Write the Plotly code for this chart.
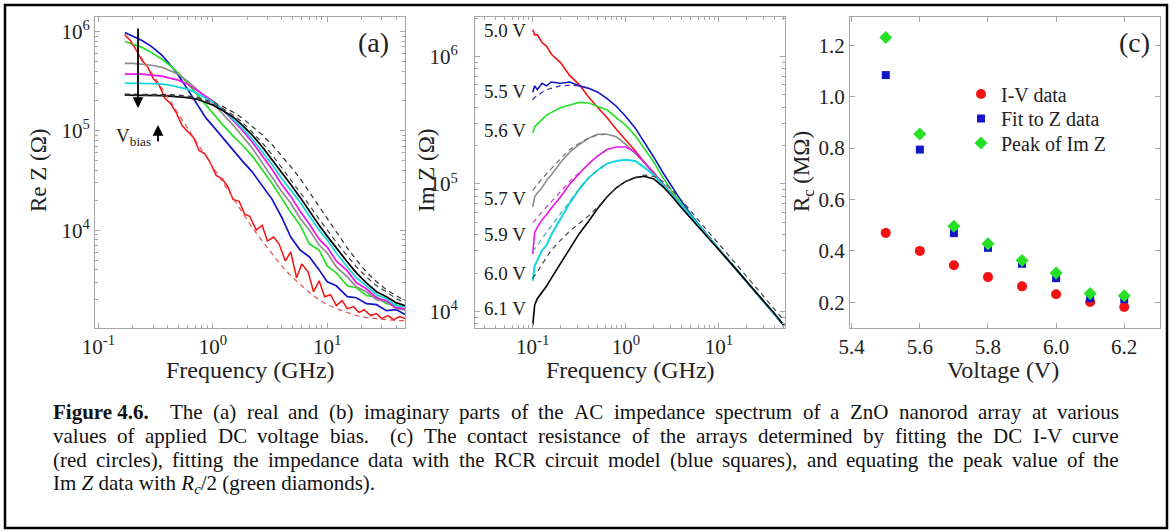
import plotly.graph_objects as go

W, H = 1172, 531

# ---------------- Panel (a): Re Z (log10 of ohms) vs frequency (GHz) ----------------
FREQ_A = [0.17, 0.2, 0.24, 0.29, 0.36, 0.42, 0.5, 0.6, 0.72, 0.87, 1.0, 1.2, 1.5, 1.8, 2.2, 2.7,
          3.3, 4.0, 4.8, 5.8, 7.0, 8.5, 10, 12, 15, 18, 22, 27, 33, 40, 48]
FREQ_A_RED = [0.17, 0.19, 0.21, 0.24, 0.27, 0.3, 0.34, 0.38, 0.43, 0.48, 0.54, 0.6, 0.68, 0.76,
              0.85, 0.95, 1.07, 1.2, 1.35, 1.5, 1.7, 1.9, 2.1, 2.4, 2.7, 3.0, 3.4, 3.8, 4.3, 4.8,
              5.4, 6.0, 6.8, 7.6, 8.5, 9.5, 10.7, 12, 13.5, 15, 17, 19, 21, 24, 27, 30, 34, 38, 43, 48]
REZ_5V0 = [5.97, 5.91, 5.83, 5.71, 5.64, 5.53, 5.46, 5.33, 5.27, 5.18, 5.05, 4.99, 4.93, 4.80,
           4.77, 4.68, 4.55, 4.52, 4.44, 4.31, 4.29, 4.16, 4.14, 4.00, 4.05, 3.89, 3.93, 3.86, 3.69,
           3.78, 3.52, 3.66, 3.58, 3.38, 3.49, 3.33, 3.35, 3.24, 3.29, 3.21, 3.23, 3.17, 3.20, 3.14,
           3.16, 3.11, 3.14, 3.10, 3.13, 3.11]
REZ_5V5 = [5.99, 5.95, 5.91, 5.85, 5.76, 5.67, 5.56, 5.42, 5.28, 5.13, 5.05, 4.94, 4.81, 4.70, 4.59,
           4.45, 4.31, 4.13, 3.93, 3.80, 3.73, 3.60, 3.48, 3.44, 3.33, 3.32, 3.26, 3.25, 3.19, 3.20, 3.15]
REZ_5V6 = [5.90, 5.87, 5.84, 5.79, 5.72, 5.66, 5.58, 5.48, 5.37, 5.26, 5.18, 5.07, 4.95, 4.86, 4.75,
           4.61, 4.47, 4.32, 4.18, 4.05, 3.86, 3.80, 3.64, 3.57, 3.44, 3.42, 3.34, 3.33, 3.26, 3.25, 3.19]
REZ_5V7 = [5.68, 5.68, 5.67, 5.66, 5.64, 5.61, 5.57, 5.50, 5.42, 5.34, 5.28, 5.18, 5.06, 4.95, 4.83,
           4.68, 4.53, 4.39, 4.27, 4.12, 4.00, 3.85, 3.77, 3.63, 3.53, 3.43, 3.38, 3.30, 3.28, 3.21, 3.20]
REZ_5V9 = [5.57, 5.57, 5.57, 5.56, 5.55, 5.53, 5.51, 5.47, 5.41, 5.35, 5.30, 5.22, 5.11, 5.01, 4.89,
           4.75, 4.61, 4.46, 4.34, 4.19, 4.06, 3.91, 3.83, 3.69, 3.59, 3.47, 3.41, 3.32, 3.29, 3.22, 3.21]
REZ_6V0 = [5.48, 5.48, 5.48, 5.475, 5.47, 5.46, 5.44, 5.42, 5.38, 5.33, 5.29, 5.22, 5.12, 5.03, 4.92,
           4.79, 4.66, 4.52, 4.40, 4.28, 4.14, 4.00, 3.90, 3.77, 3.63, 3.52, 3.44, 3.35, 3.31, 3.24, 3.23]
REZ_6V1 = [5.36, 5.36, 5.36, 5.36, 5.355, 5.35, 5.345, 5.335, 5.32, 5.29, 5.26, 5.21, 5.14, 5.06, 4.96,
           4.84, 4.71, 4.58, 4.46, 4.33, 4.19, 4.05, 3.94, 3.82, 3.68, 3.57, 3.47, 3.38, 3.33, 3.27, 3.24]
REZ_FIT_5V0 = [5.97, 5.86, 5.73, 5.59, 5.43, 5.31, 5.17, 5.03, 4.89, 4.74, 4.64, 4.50, 4.33, 4.19, 4.03,
               3.89, 3.76, 3.64, 3.54, 3.45, 3.37, 3.30, 3.25, 3.21, 3.17, 3.14, 3.12, 3.11, 3.10, 3.09, 3.09]
REZ_FIT_6V1_A = [5.36, 5.36, 5.36, 5.36, 5.36, 5.355, 5.35, 5.34, 5.325, 5.30, 5.27, 5.23, 5.16, 5.09,
                 4.99, 4.88, 4.76, 4.63, 4.51, 4.38, 4.25, 4.11, 4.00, 3.88, 3.74, 3.63, 3.53, 3.44,
                 3.38, 3.31, 3.27]
REZ_FIT_6V1_B = [5.37, 5.37, 5.37, 5.37, 5.37, 5.365, 5.36, 5.35, 5.34, 5.31, 5.29, 5.25, 5.19, 5.13,
                 5.05, 4.96, 4.86, 4.75, 4.64, 4.52, 4.38, 4.24, 4.12, 3.98, 3.82, 3.70, 3.58, 3.48,
                 3.40, 3.34, 3.29]

# ---------------- Panel (b): Im Z (log10 of ohms) vs frequency (GHz) ----------------
FREQ_B = [0.1, 0.105, 0.112, 0.126, 0.141, 0.158, 0.2, 0.25, 0.316, 0.4, 0.5, 0.63, 0.79, 1.0,
          1.26, 1.58, 2.0, 2.5, 3.16, 4.0, 5.0, 6.3, 7.9, 10, 15.8, 25, 40, 50]
IMZ_5V0 = [6.21, 6.17, 6.17, 6.11, 6.08, 6.02, 5.95, 5.85, 5.78, 5.68, 5.60, 5.52, 5.43, 5.345, 5.26,
           5.17, 5.09, 5.00, 4.92, 4.83, 4.75, 4.66, 4.58, 4.49, 4.32, 4.15, 3.98, 3.89]
IMZ_5V5 = [5.72, 5.77, 5.74, 5.79, 5.77, 5.80, 5.79, 5.80, 5.77, 5.75, 5.72, 5.67, 5.61, 5.53, 5.44,
           5.33, 5.21, 5.09, 4.97, 4.86, 4.76, 4.665, 4.578, 4.49, 4.32, 4.15, 3.98, 3.89]
IMZ_5V6 = [5.40, 5.45, 5.47, 5.51, 5.54, 5.56, 5.60, 5.62, 5.64, 5.635, 5.61, 5.58, 5.52, 5.46, 5.38,
           5.28, 5.17, 5.05, 4.94, 4.84, 4.75, 4.66, 4.578, 4.49, 4.32, 4.15, 3.98, 3.89]
IMZ_5V7 = [4.82, 4.90, 4.93, 4.97, 5.03, 5.07, 5.17, 5.25, 5.31, 5.36, 5.39, 5.39, 5.37, 5.31, 5.24,
           5.17, 5.085, 5.00, 4.915, 4.83, 4.745, 4.66, 4.576, 4.49, 4.32, 4.15, 3.98, 3.89]
IMZ_5V9 = [4.45, 4.62, 4.66, 4.72, 4.76, 4.81, 4.90, 5.00, 5.08, 5.16, 5.22, 5.27, 5.29, 5.29, 5.25,
           5.17, 5.08, 5.00, 4.91, 4.83, 4.745, 4.66, 4.576, 4.49, 4.32, 4.15, 3.98, 3.89]
IMZ_6V0 = [4.24, 4.36, 4.40, 4.48, 4.52, 4.60, 4.73, 4.85, 4.96, 5.05, 5.11, 5.16, 5.18, 5.19, 5.18,
           5.13, 5.07, 4.995, 4.915, 4.83, 4.745, 4.66, 4.576, 4.49, 4.32, 4.15, 3.98, 3.89]
IMZ_6V1 = [3.89, 4.05, 4.10, 4.15, 4.20, 4.26, 4.38, 4.50, 4.61, 4.71, 4.81, 4.90, 4.97, 5.02, 5.05,
           5.06, 5.04, 4.98, 4.90, 4.81, 4.73, 4.65, 4.57, 4.49, 4.32, 4.15, 3.98, 3.89]
IMZ_FIT_5V5 = [5.66, 5.68, 5.69, 5.72, 5.74, 5.75, 5.77, 5.775, 5.77, 5.75, 5.72, 5.67]
IMZ_FIT_5V7 = [4.95, 4.97, 5.00, 5.04, 5.08, 5.12, 5.20, 5.27, 5.32, 5.36, 5.385, 5.39]
IMZ_FIT_5V9 = [4.70, 4.71, 4.74, 4.78, 4.82, 4.86, 4.94, 5.02, 5.09, 5.16, 5.22, 5.27]
IMZ_FIT_6V0 = [4.47, 4.49, 4.52, 4.57, 4.62, 4.67, 4.77, 4.87, 4.96, 5.05, 5.11, 5.16]
IMZ_FIT_6V1 = [4.26, 4.28, 4.31, 4.37, 4.43, 4.48, 4.56, 4.63, 4.69, 4.75, 4.82, 4.90, 4.97, 5.02,
               5.05, 5.07, 5.06, 5.02, 4.95, 4.87, 4.785, 4.70, 4.615, 4.53, 4.36, 4.19, 4.02, 3.93]
VOLT_LABELS_B = ["5.0 V", "5.5 V", "5.6 V", "5.7 V", "5.9 V", "6.0 V", "6.1 V"]

# ---------------- Panel (c): contact resistance (MOhm) vs voltage (V) ----------------
VOLTAGE = [5.5, 5.6, 5.7, 5.8, 5.9, 6.0, 6.1, 6.2]
RC_IV = [0.470, 0.400, 0.344, 0.298, 0.262, 0.231, 0.201, 0.182]
RC_FIT = [1.084, 0.794, 0.469, 0.412, 0.350, 0.294, 0.216, 0.212]
RC_PEAK = [1.230, 0.855, 0.496, 0.428, 0.363, 0.314, 0.234, 0.225]

RED, BLUE, GREEN = "#f21212", "#1414c8", "#25e025"
GRAY, MAGENTA, CYAN, BLACK = "#8c8c8c", "#ee12ee", "#12d6e0", "#000000"
FONT = "Liberation Serif, Times New Roman, serif"
AX = "#a6a6a6"

fig = go.Figure()


def add_line(x, logy, color, xa, ya, width=1.6, dash=None):
    fig.add_trace(go.Scatter(x=x[:len(logy)], y=[10 ** v for v in logy], mode="lines",
                             line=dict(color=color, width=width, dash=dash),
                             xaxis=xa, yaxis=ya, showlegend=False, hoverinfo="skip"))


# panel (a)
add_line(FREQ_A_RED, REZ_5V0, RED, "x", "y", 1.5)
for vals, col in [(REZ_5V5, BLUE), (REZ_5V6, GREEN), (REZ_5V7, GRAY), (REZ_5V9, MAGENTA),
                  (REZ_6V0, CYAN), (REZ_6V1, BLACK)]:
    add_line(FREQ_A, vals, col, "x", "y", 1.7)
add_line(FREQ_A, REZ_FIT_5V0, "#e85050", "x", "y", 1.2, "5px,4px")
add_line(FREQ_A, REZ_FIT_6V1_A, "#404040", "x", "y", 1.2, "5px,4px")
add_line(FREQ_A, REZ_FIT_6V1_B, "#303030", "x", "y", 1.2, "5px,4px")

# panel (b)
for vals, col in [(IMZ_5V0, RED), (IMZ_5V5, BLUE), (IMZ_5V6, GREEN), (IMZ_5V7, GRAY),
                  (IMZ_5V9, MAGENTA), (IMZ_6V0, CYAN), (IMZ_6V1, BLACK)]:
    add_line(FREQ_B, vals, col, "x2", "y2", 2.0 if col == CYAN else 1.6)
for vals, col in [(IMZ_FIT_5V5, "#3030a0"), (IMZ_FIT_5V7, "#707070"), (IMZ_FIT_5V9, "#c040c0"),
                  (IMZ_FIT_6V0, "#30b0b8"), (IMZ_FIT_6V1, "#404848")]:
    add_line(FREQ_B, vals, col, "x2", "y2", 1.2, "5px,4px")

# panel (c): one legend per entry so that the rows can be spaced like the original
for vals, name, sym, size, col, leg in [(RC_IV, "I-V data", "circle", 10, RED, "legend"),
                                        (RC_FIT, "Fit to Z data", "square", 8, BLUE, "legend2"),
                                        (RC_PEAK, "Peak of Im Z", "diamond", 10, GREEN, "legend3")]:
    fig.add_trace(go.Scatter(x=VOLTAGE, y=vals, mode="markers", name=name, legend=leg,
                             marker=dict(symbol=sym, size=size, color=col),
                             xaxis="x3", yaxis="y3", hoverinfo="skip"))

TOP, BOT = 1 - 17 / H, 1 - 328 / H
tickfont = dict(family=FONT, size=21, color="#222")


def axis(domain, **kw):
    d = dict(domain=domain, showline=True, linecolor=AX, linewidth=1, mirror="ticks",
             ticks="inside", ticklen=5, tickcolor=AX, showgrid=False, zeroline=False,
             tickfont=tickfont, automargin=False)
    d.update(kw)
    return d


def sup(e):
    return "10<sup>%d</sup>" % e


minor_log = dict(ticks="inside", ticklen=3, tickcolor=AX, showgrid=False, dtick="D1")


def legend_at(ycenter):
    return dict(x=961 / W, y=1 - ycenter / H, xanchor="left", yanchor="middle",
                font=dict(family=FONT, size=20, color="#222"), bgcolor="rgba(0,0,0,0)",
                itemwidth=30, borderwidth=0)


fig.update_layout(
    width=W, height=H, autosize=False, margin=dict(l=0, r=0, t=0, b=0),
    paper_bgcolor="white", plot_bgcolor="white", font=dict(family=FONT, color="#222"),
    xaxis=axis([95 / W, 405 / W], type="log", range=[-1.03, 1.68], anchor="y",
               tickvals=[0.1, 1, 10], ticktext=[sup(-1), sup(0), sup(1)], minor=minor_log),
    yaxis=axis([BOT, TOP], type="log", range=[3.015, 6.146], anchor="x",
               tickvals=[1e4, 1e5, 1e6], ticktext=[sup(4), sup(5), sup(6)], minor=minor_log,
               ticklabelstandoff=0),
    xaxis2=axis([475 / W, 785 / W], type="log", range=[-1.62, 1.71], anchor="y2",
                tickvals=[0.1, 1, 10], ticktext=[sup(-1), sup(0), sup(1)], minor=minor_log),
    yaxis2=axis([BOT, TOP], type="log", range=[3.87, 6.31], anchor="x2",
                tickvals=[1e4, 1e5, 1e6], ticktext=[sup(4), sup(5), sup(6)], minor=minor_log,
                ticklabelstandoff=12),
    xaxis3=axis([850 / W, 1160 / W], range=[5.395, 6.305], anchor="y3",
                tickvals=[5.4, 5.6, 5.8, 6.0, 6.2], tickformat=".1f"),
    yaxis3=axis([BOT, TOP], range=[0.1, 1.31], anchor="x3",
                tickvals=[0.2, 0.4, 0.6, 0.8, 1.0, 1.2], tickformat=".1f", ticklabelstandoff=0),
    legend=legend_at(94), legend2=legend_at(118.5), legend3=legend_at(143),
    showlegend=True,
)


def ann(x, y, text, size, angle=0, xanchor="center"):
    fig.add_annotation(x=x / W, y=1 - y / H, xref="paper", yref="paper", text=text,
                       showarrow=False, textangle=angle, xanchor=xanchor, yanchor="middle",
                       font=dict(family=FONT, size=size, color="#222"))


ann(38, 170, "Re Z (Ω)", 23, -90)
ann(426, 170, "Im Z (Ω)", 23, -90)
ann(803, 172, "R<sub>c</sub> (MΩ)", 23, -90)
ann(250, 370, "Frequency (GHz)", 24)
ann(630, 370, "Frequency (GHz)", 24)
ann(1003, 370, "Voltage (V)", 24)
ann(373, 43, "(a)", 28)
ann(1134, 43, "(c)", 28)
for lab, yy in zip(VOLT_LABELS_B, [30, 91, 130, 198, 235, 273, 308]):
    ann(505, yy, lab, 19)
ann(133, 137, "V<sub>bias</sub>", 19)

# V_bias arrows
fig.add_annotation(x=138 / W, y=1 - 108 / H, xref="paper", yref="paper", ax=0, ay=-81,
                   showarrow=True, arrowhead=2, arrowsize=1.2, arrowwidth=1.8, arrowcolor="black",
                   text="")
fig.add_annotation(x=158 / W, y=1 - 125 / H, xref="paper", yref="paper", ax=0, ay=18,
                   showarrow=True, arrowhead=2, arrowsize=1.2, arrowwidth=1.8, arrowcolor="black",
                   text="")

# ---------------- caption, justified word by word with Times metrics ----------------
TIMES = {" ": 250, "(": 333, ")": 333, ",": 250, "-": 333, ".": 250, "/": 278, "2": 500,
         "A": 722, "C": 667, "D": 722, "I": 333, "O": 722, "R": 667, "T": 611, "V": 722, "Z": 611,
         "a": 444, "b": 500, "c": 444, "d": 500, "e": 444, "f": 333, "g": 500, "h": 500, "i": 278,
         "j": 278, "k": 500, "l": 278, "m": 778, "n": 500, "o": 500, "p": 500, "q": 500, "r": 333,
         "s": 389, "t": 278, "u": 500, "v": 500, "w": 722, "x": 500, "y": 500, "z": 444}
TIMES_BOLD = {"F": 611, "i": 278, "g": 500, "u": 556, "r": 444, "e": 444, " ": 250, "4": 500,
              ".": 250, "6": 500}
CAP_SIZE = 21
CAP_X0, CAP_X1 = 52, 1118
CAPTION_LINES = [
    ["<b>Figure 4.6.</b>", "", "The", "(a)", "real", "and", "(b)", "imaginary", "parts", "of", "the",
     "AC", "impedance", "spectrum", "of", "a", "ZnO", "nanorod", "array", "at", "various"],
    ["values", "of", "applied", "DC", "voltage", "bias.", "", "(c)", "The", "contact", "resistance",
     "of", "the", "arrays", "determined", "by", "fitting", "the", "DC", "I-V", "curve"],
    ["(red", "circles),", "fitting", "the", "impedance", "data", "with", "the", "RCR", "circuit",
     "model", "(blue", "squares),", "and", "equating", "the", "peak", "value", "of", "the"],
]
CAPTION_LAST = "Im <i>Z</i> data with <i>R<sub>c</sub></i>/2 (green diamonds)."


def text_width(word):
    if word.startswith("<b>"):
        plain = word[3:-4]
        return sum(TIMES_BOLD.get(ch, 500) for ch in plain) * CAP_SIZE / 1000
    return sum(TIMES.get(ch, 500) for ch in word) * CAP_SIZE / 1000


for row, words in enumerate(CAPTION_LINES):
    real = [w for w in words if w]
    # a gap after each word; an empty entry doubles the following gap
    gaps = []
    for i, w in enumerate(words[:-1]):
        if w:
            gaps.append(1 if words[i + 1] else 2)
    natural = sum(text_width(w) for w in real) + sum(gaps) * 0.25 * CAP_SIZE
    space = 0.25 * CAP_SIZE + (CAP_X1 - CAP_X0 - natural) / sum(gaps)
    x = CAP_X0
    yy = 412 + 24 * row
    for k, w in enumerate(real):
        fig.add_annotation(x=x / W, y=1 - yy / H, xref="paper", yref="paper", xanchor="left",
                           yanchor="middle", text=w, showarrow=False, borderpad=0,
                           font=dict(family=FONT, size=CAP_SIZE, color="#111"))
        if k < len(gaps):
            x += text_width(w) + gaps[k] * space
fig.add_annotation(x=CAP_X0 / W, y=1 - (412 + 72) / H, xref="paper", yref="paper", xanchor="left",
                   yanchor="middle", text=CAPTION_LAST, showarrow=False, borderpad=0,
                   font=dict(family=FONT, size=CAP_SIZE, color="#111"))

# outer frame
fig.add_shape(type="rect", xref="paper", yref="paper", x0=5 / W, x1=1167 / W, y0=1 - 528 / H,
              y1=1 - 5 / H, line=dict(color="black", width=2.5))

fig.write_html("out.html")
